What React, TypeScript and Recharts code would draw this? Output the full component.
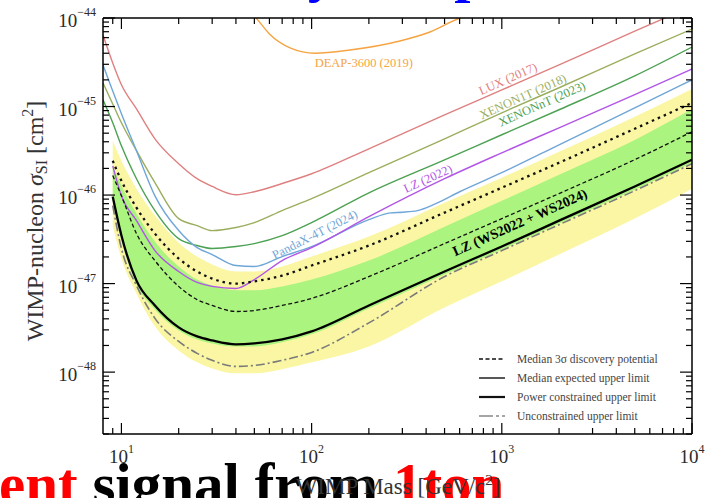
import { ComposedChart, Line, Area, XAxis, YAxis, ReferenceDot } from 'recharts';

const W = 709;
const H = 498;
const SERIF = '"Liberation Serif", "Times New Roman", serif';

// LZ WS2022+WS2024 curves, all on one mass grid (GeV/c^2), sigma in cm^2
const lzMass = [9, 10, 12, 15, 20, 25, 30, 40, 50, 70, 100, 200, 500, 1000, 2000, 5000, 10000];
const band2Hi = [4.1e-46, 2.44e-46, 1.18e-46, 5.86e-47, 2.9e-47, 2.02e-47, 1.64e-47, 1.37e-47, 1.37e-47, 1.56e-47, 2.02e-47, 3.4e-47, 8.2e-47, 1.57e-46, 3.08e-46, 7.65e-46, 1.58e-45];
const band1Hi = [2.14e-46, 1.28e-46, 6.2e-47, 2.98e-47, 1.56e-47, 1.11e-47, 9.5e-48, 8.4e-48, 8.4e-48, 9.3e-48, 1.11e-47, 1.82e-47, 4.4e-47, 8.6e-47, 1.7e-46, 4.2e-46, 9.4e-46];
const band1Lo = [8.6e-47, 3.06e-47, 9.8e-48, 5.1e-48, 2.96e-48, 2.34e-48, 2.11e-48, 1.95e-48, 1.95e-48, 2.17e-48, 2.67e-48, 5.24e-48, 1.27e-47, 2.42e-47, 4.76e-47, 1.15e-46, 2.32e-46];
const band2Lo = [4.5e-47, 1.92e-47, 7.7e-48, 3.29e-48, 1.76e-48, 1.29e-48, 1.1e-48, 9.7e-49, 9.7e-49, 1.08e-48, 1.29e-48, 1.95e-48, 5.37e-48, 1.06e-47, 2.13e-47, 5.42e-47, 1.18e-46];
const discovery3s = [2.44e-46, 1.45e-46, 7.2e-47, 3.67e-47, 1.92e-47, 1.37e-47, 1.14e-47, 1.0e-47, 1.06e-47, 1.23e-47, 1.6e-47, 2.69e-47, 6.34e-47, 1.21e-46, 2.32e-46, 5.61e-46, 1.1e-45];
const medianExpected = [1.66e-46, 9.8e-47, 3.67e-47, 1.82e-47, 9.3e-48, 6.6e-48, 5.66e-48, 4.84e-48, 4.97e-48, 5.66e-48, 6.8e-48, 1.2e-47, 2.83e-47, 5.42e-47, 1.04e-46, 2.51e-46, 5.19e-46];
const powerConstrained = [9.6e-47, 3.5e-47, 1.08e-47, 5.66e-48, 3.2e-48, 2.53e-48, 2.28e-48, 2.06e-48, 2.11e-48, 2.34e-48, 2.88e-48, 5.66e-48, 1.37e-47, 2.62e-47, 5.14e-47, 1.25e-46, 2.51e-46];
const unconstrained = [7.6e-47, 2.49e-47, 9.5e-48, 4.05e-48, 2.22e-48, 1.63e-48, 1.36e-48, 1.16e-48, 1.19e-48, 1.36e-48, 1.67e-48, 3.6e-48, 1.2e-47, 2.36e-47, 4.63e-47, 1.12e-46, 2.26e-46];
const lz2022 = [2.14e-46, 9.8e-47, 5.14e-47, 2.36e-47, 1.37e-47, 1.03e-47, 9.3e-48, 8.8e-48, 1.11e-47, 1.82e-47, 2.55e-47, 5.7e-47, 1.53e-46, 3.0e-46, 5.75e-46, 1.36e-45, 2.66e-45];

// older experiments
const wideMass = [8, 9, 10, 12, 15, 20, 25, 30, 40, 50, 70, 100, 200, 500, 1000, 2000, 5000, 10000];
const lux2017 = [6.43e-45, 3.11e-45, 1.76e-45, 9.4e-46, 4.32e-46, 2.26e-46, 1.53e-46, 1.25e-46, 1.01e-46, 1.09e-46, 1.35e-46, 1.74e-46, 3.33e-46, 8.05e-46, 1.54e-45, 2.95e-45, 7.1e-45, 1.36e-44];
const xenon1t2018 = [1.85e-45, 1.07e-45, 6.55e-46, 3.17e-46, 1.38e-46, 5.42e-47, 4.52e-47, 3.97e-47, 4.3e-47, 4.89e-47, 6.67e-47, 9.1e-47, 1.79e-46, 4.32e-46, 8.5e-46, 1.63e-45, 3.93e-45, 7.5e-45];
const xenonnt2023 = [1.19e-45, 6.55e-46, 3.6e-46, 1.53e-46, 6.67e-47, 3.22e-47, 2.69e-47, 2.49e-47, 2.62e-47, 2.83e-47, 3.48e-47, 4.89e-47, 1.06e-46, 2.5e-46, 4.8e-46, 9.2e-46, 2.22e-45, 4.7e-45];

const pandaxMass = [8, 9, 10, 12, 15, 20, 25, 30, 40, 50, 70, 100, 200, 260, 300, 360, 450, 600, 1000, 2000, 5000, 10000];
const pandax2024 = [2.95e-45, 1.5e-45, 8.3e-46, 3.16e-46, 9.8e-47, 3.97e-47, 2.55e-47, 2.13e-47, 1.6e-47, 1.56e-47, 2.02e-47, 2.62e-47, 5.28e-47, 6.3e-47, 6.4e-47, 6.67e-47, 8.0e-47, 1.09e-46, 1.79e-46, 3.7e-46, 9.66e-46, 2.0e-45];

const deapMass = [46, 51, 60, 77, 104, 159, 291, 419, 603, 680];
const deap2019 = [1.23e-44, 1.0e-44, 6.6e-45, 4.6e-45, 4.0e-45, 4.35e-45, 5.5e-45, 6.95e-45, 1.0e-44, 1.08e-44];

const legendLabels = [
  'Median 3\u03c3 discovery potential',
  'Median expected upper limit',
  'Power constrained upper limit',
  'Unconstrained upper limit',
];

const xDomain = [8, 10000];
const yDomain = [2e-49, 1e-44];

const pts = (mass: number[], vals: number[]) => mass.map((m, i) => ({ m, s: vals[i] }));

const lzTable = lzMass.map((m, i) => ({
  m,
  y2: [band2Lo[i], band2Hi[i]],
  y1: [band1Lo[i], band1Hi[i]],
  disc: discovery3s[i],
  med: medianExpected[i],
  pcl: powerConstrained[i],
  unc: unconstrained[i],
  lz22: lz2022[i],
}));

const luxData = pts(wideMass, lux2017);
const x1tData = pts(wideMass, xenon1t2018);
const xntData = pts(wideMass, xenonnt2023);
const pandaxData = pts(pandaxMass, pandax2024);
const deapData = pts(deapMass, deap2019);

// tick positions: decades plus 2..9 minors
const xTicks: number[] = [9];
for (let e = 1; e <= 3; e++) for (let k = 1; k <= 9; k++) xTicks.push(k * Math.pow(10, e));
xTicks.push(10000);
const yTicks: number[] = [];
for (let e = -49; e <= -45; e++)
  for (let k = 1; k <= 9; k++) {
    const v = k * Math.pow(10, e);
    if (v >= 2e-49) yTicks.push(v);
  }
yTicks.push(1e-44);

const isDecade = (v: number) => Math.abs(Math.log10(v) - Math.round(Math.log10(v))) < 1e-6;

const C = {
  deap: '#f6a443',
  lux: '#df8080',
  x1t: '#9bae5e',
  xnt: '#4ca152',
  pandax: '#6fa6d8',
  lz22: '#b255e6',
  yellow: '#faf6a4',
  green: '#abf47f',
  text: '#2b2b2b',
};

function XTick(props: any) {
  const { x, y, payload, side } = props;
  const major = isDecade(payload.value);
  const len = major ? 11 : 6;
  const dir = side === 'top' ? 1 : -1;
  return (
    <g>
      <line x1={x} x2={x} y1={y} y2={y + dir * len} stroke="#000" strokeWidth={1.2} />
      {side === 'bottom' && major && (
        <text x={x} y={y + 29} textAnchor="middle" fontFamily={SERIF} fontSize={19} fill={C.text}>
          10
          <tspan dy={-10} fontSize={12}>
            {Math.round(Math.log10(payload.value))}
          </tspan>
        </text>
      )}
    </g>
  );
}

function YTick(props: any) {
  const { x, y, payload, side } = props;
  const major = isDecade(payload.value);
  const len = major ? 12 : 6;
  const dir = side === 'left' ? 1 : -1;
  return (
    <g>
      <line x1={x} x2={x + dir * len} y1={y} y2={y} stroke="#000" strokeWidth={1.2} />
      {side === 'left' && major && (
        <text x={x - 7} y={y + 9} textAnchor="end" fontFamily={SERIF} fontSize={19} fill={C.text}>
          10
          <tspan dy={-11} fontSize={12}>
            {'\u2212' + Math.abs(Math.round(Math.log10(payload.value)))}
          </tspan>
        </text>
      )}
    </g>
  );
}

const curveLabel =
  (text: string, color: string, angle: number, size = 12.5, bold = false) =>
  (p: any) => (
    <text
      x={p.cx}
      y={p.cy}
      transform={`rotate(${angle} ${p.cx} ${p.cy})`}
      textAnchor="middle"
      dominantBaseline="central"
      fontFamily={SERIF}
      fontSize={size}
      fontWeight={bold ? 'bold' : 'normal'}
      fill={color}
    >
      {text}
    </text>
  );

const frame = { stroke: '#000', strokeWidth: 1.5 };

export default function App() {
  const legendY = [359, 378, 397, 416];
  return (
    <div style={{ position: 'absolute', left: 0, top: 0, width: W, height: H, overflow: 'hidden', background: '#fff' }}>
      <svg width={W} height={H} style={{ position: 'absolute', left: 0, top: 0 }}>
        {/* slide text around the figure */}
        <text x={79} y={-9} fontFamily={SERIF} fontSize={58} fontWeight="bold" fill="#0000ff">
          Sensitivity comparison
        </text>
        <text x={-1} y={504} fontFamily={SERIF} fontSize={59} fontWeight="bold">
          <tspan fill="#ff0000">ent</tspan>
          <tspan fill="#000"> signal from </tspan>
          <tspan fill="#ff0000">1ton</tspan>
        </text>

        <text x={398} y={494} textAnchor="middle" fontFamily={SERIF} fontSize={23} fill="#333">
          WIMP Mass [GeV/c
          <tspan dy={-9} fontSize={15}>2</tspan>
          <tspan dy={9}>]</tspan>
        </text>
        <text transform="translate(43,221) rotate(-90)" textAnchor="middle" fontFamily={SERIF} fontSize={24} fill="#333">
          WIMP-nucleon <tspan fontStyle="italic">σ</tspan>
          <tspan fontSize={16} dy={4}>SI</tspan>
          <tspan dy={-4}> [cm</tspan>
          <tspan fontSize={16} dy={-10}>2</tspan>
          <tspan dy={10}>]</tspan>
        </text>

        {/* legend */}
        <line x1={479} x2={505} y1={legendY[0]} y2={legendY[0]} stroke="#111" strokeWidth={1.3} strokeDasharray="4 2.5" />
        <line x1={479} x2={505} y1={legendY[1]} y2={legendY[1]} stroke="#111" strokeWidth={1.4} />
        <line x1={479} x2={505} y1={legendY[2]} y2={legendY[2]} stroke="#111" strokeWidth={2.2} />
        <line x1={479} x2={505} y1={legendY[3]} y2={legendY[3]} stroke="#888" strokeWidth={1.3} strokeDasharray="14 3 3 3" />
        {legendLabels.map((t, i) => (
          <text key={t} x={517} y={legendY[i] + 4} fontFamily={SERIF} fontSize={11.5} fill="#444">
            {t}
          </text>
        ))}
      </svg>

      <div style={{ position: 'absolute', left: 0, top: 0 }}>
        <ComposedChart width={W} height={H} data={lzTable} margin={{ top: 0, right: 0, bottom: 0, left: 0 }}>
          <XAxis
            dataKey="m"
            type="number"
            scale="log"
            domain={xDomain}
            allowDataOverflow
            ticks={xTicks}
            interval={0}
            tickSize={0}
            tickMargin={0}
            tickLine={false}
            axisLine={frame}
            height={64}
            tick={(p: any) => <XTick {...p} side="bottom" />}
          />
          <XAxis
            xAxisId="top"
            orientation="top"
            dataKey="m"
            type="number"
            scale="log"
            domain={xDomain}
            allowDataOverflow
            ticks={xTicks}
            interval={0}
            tickSize={0}
            tickMargin={0}
            tickLine={false}
            axisLine={frame}
            height={18}
            tick={(p: any) => <XTick {...p} side="top" />}
          />
          <YAxis
            type="number"
            scale="log"
            domain={yDomain}
            allowDataOverflow
            ticks={yTicks}
            interval={0}
            tickSize={0}
            tickMargin={0}
            tickLine={false}
            axisLine={frame}
            width={103}
            tick={(p: any) => <YTick {...p} side="left" />}
          />
          <YAxis
            yAxisId="right"
            orientation="right"
            type="number"
            scale="log"
            domain={yDomain}
            allowDataOverflow
            ticks={yTicks}
            interval={0}
            tickSize={0}
            tickMargin={0}
            tickLine={false}
            axisLine={frame}
            width={17}
            tick={(p: any) => <YTick {...p} side="right" />}
          />

          <Area type="monotone" dataKey="y2" stroke="none" fill={C.yellow} fillOpacity={1} dot={false} activeDot={false} isAnimationActive={false} />
          <Area type="monotone" dataKey="y1" stroke="none" fill={C.green} fillOpacity={1} dot={false} activeDot={false} isAnimationActive={false} />

          <Line data={deapData} dataKey="s" type="monotone" stroke={C.deap} strokeWidth={1.4} dot={false} activeDot={false} isAnimationActive={false} />
          <Line data={luxData} dataKey="s" type="monotone" stroke={C.lux} strokeWidth={1.4} dot={false} activeDot={false} isAnimationActive={false} />
          <Line data={x1tData} dataKey="s" type="monotone" stroke={C.x1t} strokeWidth={1.4} dot={false} activeDot={false} isAnimationActive={false} />
          <Line data={xntData} dataKey="s" type="monotone" stroke={C.xnt} strokeWidth={1.4} dot={false} activeDot={false} isAnimationActive={false} />
          <Line data={pandaxData} dataKey="s" type="monotone" stroke={C.pandax} strokeWidth={1.4} dot={false} activeDot={false} isAnimationActive={false} />
          <Line dataKey="lz22" type="monotone" stroke={C.lz22} strokeWidth={1.4} dot={false} activeDot={false} isAnimationActive={false} />

          <Line dataKey="disc" type="monotone" stroke="#111" strokeWidth={2.3} strokeDasharray="2.5 4" dot={false} activeDot={false} isAnimationActive={false} />
          <Line dataKey="med" type="monotone" stroke="#111" strokeWidth={1.3} strokeDasharray="4 2.5" dot={false} activeDot={false} isAnimationActive={false} />
          <Line dataKey="unc" type="monotone" stroke="#7a7a7a" strokeWidth={1.6} strokeDasharray="9 3 2 3" dot={false} activeDot={false} isAnimationActive={false} />
          <Line dataKey="pcl" type="monotone" stroke="#000" strokeWidth={2.3} dot={false} activeDot={false} isAnimationActive={false} />

          <ReferenceDot x={188} y={3.1e-45} r={0} shape={curveLabel('DEAP-3600 (2019)', C.deap, 0)} />
          <ReferenceDot x={1077} y={2.05e-45} r={0} shape={curveLabel('LUX (2017)', C.lux, -24)} />
          <ReferenceDot x={1291} y={1.29e-45} r={0} shape={curveLabel('XENON1T (2018)', C.x1t, -24)} />
          <ReferenceDot x={1625} y={1.07e-45} r={0} shape={curveLabel('XENONnT (2023)', C.xnt, -24)} />
          <ReferenceDot x={409} y={1.53e-46} r={0} shape={curveLabel('LZ (2022)', C.lz22, -24)} />
          <ReferenceDot x={104} y={3.58e-47} r={0} shape={curveLabel('PandaX-4T (2024)', C.pandax, -27)} />
          <ReferenceDot x={1245} y={4.89e-47} r={0} shape={curveLabel('LZ (WS2022 + WS2024)', '#000', -24, 14, true)} />
        </ComposedChart>
      </div>
    </div>
  );
}
